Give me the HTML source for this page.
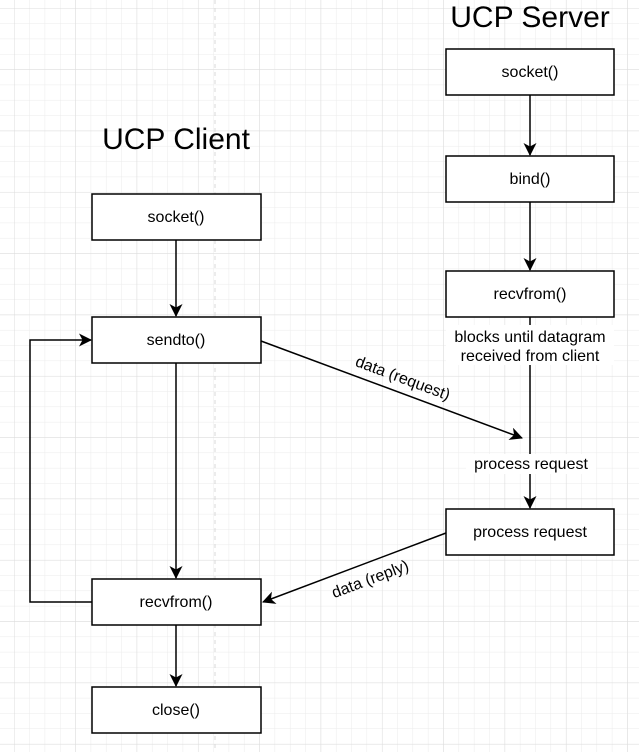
<!DOCTYPE html>
<html><head><meta charset="utf-8"><style>
body{margin:0;background:#fff}
svg{display:block;font-family:"Liberation Sans",sans-serif}
</style></head><body>
<svg width="639" height="752" viewBox="0 0 639 752">
<defs>
<pattern id="g" x="14" y="8" width="15.33" height="15.33" patternUnits="userSpaceOnUse">
<path d="M0 0H15.33M0 0V15.33" stroke="#ebebeb" stroke-width="1" fill="none"/>
</pattern>
<pattern id="G" x="14" y="8" width="61.33" height="61.33" patternUnits="userSpaceOnUse">
<path d="M0 0H61.33M0 0V61.33" stroke="#dcdcdc" stroke-width="1" fill="none"/>
</pattern>
<marker id="a" markerWidth="14" markerHeight="14" refX="12" refY="6.5" orient="auto" markerUnits="userSpaceOnUse"><path d="M0 0L13 6.5L0 13L3.5 6.5Z" fill="#000"/></marker>
</defs>
<rect width="639" height="752" fill="url(#g)"/>
<rect width="639" height="752" fill="url(#G)"/>
<line x1="215" y1="0" x2="215" y2="752" stroke="#d8d8d8" stroke-dasharray="4 4"/>
<g fill="#000" font-size="30" text-anchor="middle">
<text x="530" y="27">UCP Server</text>
<text x="176" y="149">UCP Client</text>
</g>
<g fill="#fff" stroke="#000" stroke-width="1.5">
<rect x="92" y="194" width="169" height="46"/>
<rect x="92" y="317" width="169" height="46"/>
<rect x="92" y="579" width="169" height="46"/>
<rect x="92" y="687" width="169" height="46"/>
<rect x="446" y="49" width="168" height="46"/>
<rect x="446" y="156" width="168" height="46"/>
<rect x="446" y="271" width="168" height="46"/>
<rect x="446" y="509" width="168" height="46"/>
</g>
<g stroke="#000" stroke-width="1.5" fill="none" marker-end="url(#a)">
<line x1="176" y1="240" x2="176" y2="316"/>
<line x1="176" y1="363" x2="176" y2="578"/>
<line x1="176" y1="625" x2="176" y2="686"/>
<line x1="530" y1="95" x2="530" y2="155"/>
<line x1="530" y1="202" x2="530" y2="270"/>
<line x1="530" y1="317" x2="530" y2="508"/>
<line x1="261" y1="341" x2="522" y2="438"/>
<line x1="446" y1="533" x2="263" y2="602"/>
<polyline points="92,602 30,602 30,340 91,340"/>
</g>
<rect x="446" y="325" width="168" height="40" fill="#fff"/>
<rect x="466" y="454" width="130" height="20" fill="#fff"/>
<g fill="#000" font-size="16" text-anchor="middle">
<text x="176" y="222">socket()</text>
<text x="176" y="345">sendto()</text>
<text x="176" y="607">recvfrom()</text>
<text x="176" y="715">close()</text>
<text x="530" y="77">socket()</text>
<text x="530" y="184">bind()</text>
<text x="530" y="299">recvfrom()</text>
<text x="530" y="537">process request</text>
<text x="530" y="342">blocks until datagram</text>
<text x="530" y="361">received from client</text>
<text x="531" y="469">process request</text>
<text transform="translate(401,383) rotate(20.4)">data (request)</text>
<text transform="translate(372,584) rotate(-20.7)">data (reply)</text>
</g>
</svg>
</body></html>
